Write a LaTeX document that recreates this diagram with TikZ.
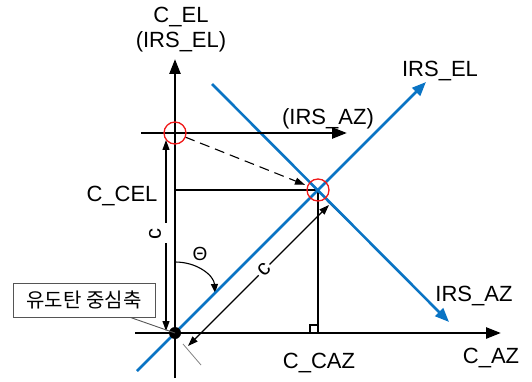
\documentclass[tikz,border=0pt]{standalone}
\usepackage{fontspec}
\setmainfont{Liberation Sans}
\newfontfamily\hangul{Noto Sans CJK KR}
\usetikzlibrary{arrows.meta,positioning,calc}
\definecolor{azul}{HTML}{0A74C4}
\definecolor{rojo}{HTML}{F01818}
\definecolor{marco}{HTML}{555555}

\begin{document}
\begin{tikzpicture}[x=1pt, y=-1pt,
  axis/.style={draw=black, line width=2.6pt, -{Triangle[length=15pt,width=11pt]}},
  irs/.style={draw=azul, line width=2.6pt, -{Triangle[length=14pt,width=11pt]}},
  fine/.style={draw=black, line width=1.1pt},
  dimarr/.style={fine, {Triangle[length=10pt,width=7pt]}-{Triangle[length=10pt,width=7pt]}},
  ring/.style={draw=rojo, line width=1.3pt, circle, minimum size=22pt, inner sep=0pt},
  lbl/.style={font=\fontsize{22}{26}\selectfont, inner sep=0pt, anchor=base},
  tagbox/.style={draw=marco, line width=0.9pt, minimum width=142pt, minimum height=34pt,
    inner sep=0pt, font=\hangul\fontsize{20}{24}\selectfont}
]
  \useasboundingbox (0,0) rectangle (532,382);
  \coordinate (O) at (175,333);
  \coordinate (P) at (175,133);
  \coordinate (Q) at (318,190);
  \coordinate (celA) at (O |- Q);
  \coordinate (cazF) at (Q |- O);
  \coordinate (cA) at (188,346);
  \coordinate (cB) at (329,205);
  \coordinate (cL) at (166,331);
  \coordinate (cU) at (166,140);
  \coordinate (thA) at ($(O)+(0,-71)$);
  \coordinate (thB) at ($(O)!0.28!(Q)$);

  % construction lines
  \draw[fine] (celA) -- (Q) -- (cazF);
  \draw[fine] ($(cazF)+(-8,0)$) -- ++(0,-8) -- ++(8,0);
  \draw[draw=gray, line width=0.8pt] ($(O)+(8,11)$) -- ($(O)+(26,32)$);
  \draw[draw=marco, line width=0.9pt] ($(Q)+(9,11)$) -- ($(Q)+(30,31)$);
  \draw[fine, dash pattern=on 10pt off 6pt, -{Triangle[length=10pt,width=7pt]},
    shorten <=11pt, shorten >=14pt] (P) -- (Q);
  \draw[dimarr] (cA) -- node[pos=0.54, sloped, fill=white, inner sep=2pt,
    font=\fontsize{22}{26}\selectfont] (cdiag) {c} (cB);
  \draw[dimarr] (cL) -- (cU);
  \node[fill=white, minimum width=4pt, minimum height=20pt, inner sep=0pt] (cgap) at (166,233) {};
  \node[font=\fontsize{22}{26}\selectfont, rotate=90, inner sep=0pt] (cvert) at (155,234) {c};
  \draw[fine, -{Triangle[length=9pt,width=7pt]}] (thA) .. controls (198,262) and (214,276) .. (thB);

  % IRS axes
  \draw[irs] (137,371) -- (426,82);
  \draw[irs] (212,84) -- (449,322);

  % C axes
  \draw[axis] (135,333) -- (501,333);
  \draw[axis] (175,378) -- (175,59);
  \draw[axis] (141,133) -- (347,133);
  \fill (O) circle (6pt);

  \node[ring] (ringP) at (P) {};
  \node[ring] (ringQ) at (Q) {};

  \node[tagbox] (tag) at (84,300) {유도탄 중심축};
  \draw[draw=marco, line width=0.9pt] ([xshift=-25pt]tag.south east) -- (O);

  \node[lbl] (elC) at (181,23) {C\_EL};
  \node[lbl] (elI) at (181,48) {(IRS\_EL)};
  \node[lbl] (irsel) at (440,77) {IRS\_EL};
  \node[lbl] (irsaz2) at (328,125) {(IRS\_AZ)};
  \node[lbl] (ccel) at (122,201) {C\_CEL};
  \node[lbl] (irsaz) at (474,301) {IRS\_AZ};
  \node[lbl] (ccaz) at (319,368) {C\_CAZ};
  \node[lbl] (caz) at (491,363) {C\_AZ};
  \node[lbl, font=\fontsize{19}{22}\selectfont] (theta) at (200,260) {Θ};
\end{tikzpicture}
\end{document}
